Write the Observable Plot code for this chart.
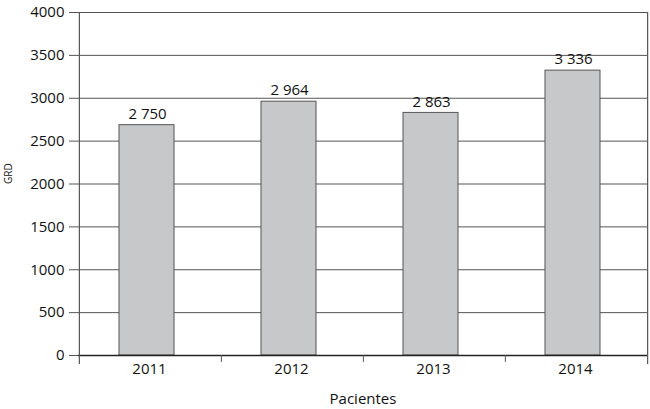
<!DOCTYPE html>
<html>
<head>
<meta charset="utf-8">
<script src="https://cdn.jsdelivr.net/npm/d3@7"></script>
<script src="https://cdn.jsdelivr.net/npm/@observablehq/plot@0.6"></script>
<style>
  html, body { margin: 0; padding: 0; background: #fff; }
</style>
</head>
<body>
<div id="chart"></div>
<script>
const years = ["2011", "2012", "2013", "2014"];
const barHeights = [2686, 2960, 2829, 3322];
const valueLabels = ["2 750", "2 964", "2 863", "3 336"];
const yTicks = [0, 500, 1000, 1500, 2000, 2500, 3000, 3500, 4000];
const yLabel = "GRD";
const xLabel = "Pacientes";

const data = years.map((y, i) => ({year: y, value: barHeights[i], label: valueLabels[i]}));

const W = 650, H = 409, mL = 78, mR = 3, mT = 12, mB = 54;
const step = (W - mL - mR) / years.length;

const chart = Plot.plot({
  width: W, height: H,
  marginLeft: mL, marginRight: mR, marginTop: mT, marginBottom: mB,
  style: {fontFamily: "'Open Sans', sans-serif", fontSize: "15px", color: "#111", background: "#fff"},
  x: {domain: years, padding: 0, label: null},
  y: {domain: [0, 4000], label: null},
  marks: [
    Plot.gridY(yTicks, {stroke: "#555", strokeOpacity: 1, strokeWidth: 1}),
    Plot.barY(data, {x: "year", y: "value", fill: "#c7c8ca", stroke: "#555", strokeWidth: 1, insetLeft: 40, insetRight: 47}),
    Plot.ruleY([0], {stroke: "#222", strokeWidth: 1.5}),
    Plot.ruleX(years, {x: d => d, y1: 4000, y2: -105, dx: -step / 2, stroke: "#555", strokeWidth: 1.2, filter: (d, i) => i === 0}),
    Plot.ruleX(years, {x: d => d, y1: 0, y2: -80, dx: -step / 2, stroke: "#555", strokeWidth: 1, filter: (d, i) => i > 0}),
    Plot.ruleX([years[years.length - 1]], {x: d => d, y1: 4000, y2: -105, dx: step / 2, stroke: "#555", strokeWidth: 1.2}),
    Plot.axisY(yTicks, {tickSize: 9, tickPadding: 5, stroke: "#555", fontSize: 15, tickFormat: d => String(d), label: null}),
    Plot.axisX({tickSize: 0, tickPadding: 8, fontSize: 15, label: null, dx: -1}),
    Plot.text(data, {x: "year", y: "value", text: "label", dy: -11, dx: -3, fontSize: 15, fill: "#111"}),
    Plot.text([yLabel], {frameAnchor: "left", text: d => d, rotate: -90, dx: -70, fontSize: 10, fill: "#111"}),
    Plot.text([xLabel], {frameAnchor: "bottom", text: d => d, dy: 48, fontSize: 15, fill: "#111"})
  ]
});
document.getElementById("chart").appendChild(chart);
</script>
</body>
</html>
